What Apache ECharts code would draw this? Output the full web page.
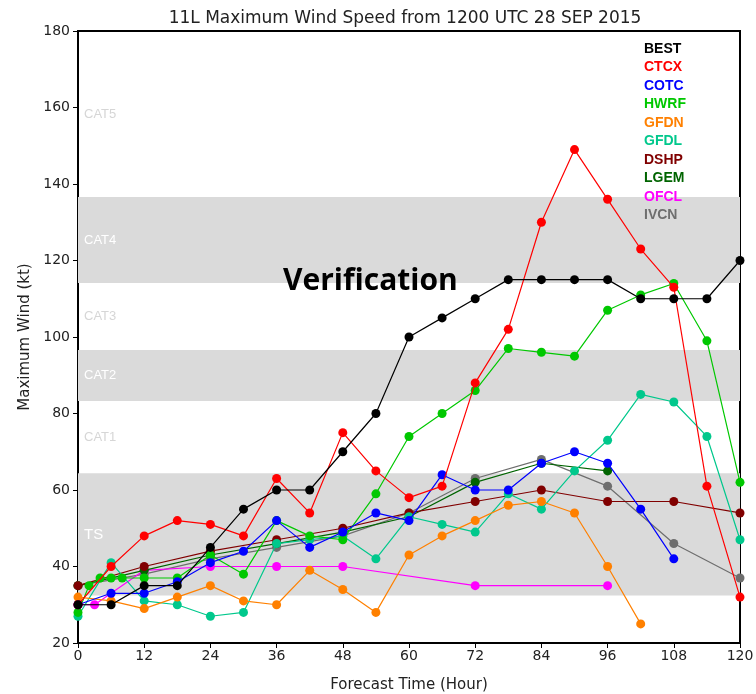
<!DOCTYPE html>
<html>
<head>
<meta charset="utf-8">
<title>11L Maximum Wind Speed</title>
<script src="https://cdn.jsdelivr.net/npm/echarts@6/dist/echarts.min.js"></script>
<style>
  html, body { margin: 0; padding: 0; background: #fff; }
  #chart { width: 756px; height: 694px; }
</style>
</head>
<body>
<div id="chart"></div>
<script>
// Forecast hours and intensities (kt) for each model
const modelNames = ['BEST', 'CTCX', 'COTC', 'HWRF', 'GFDN', 'GFDL', 'DSHP', 'LGEM', 'OFCL', 'IVCN'];
const modelColors = ['#000000', '#ff0000', '#0000ff', '#00c800', '#ff8000', '#00c88c', '#800000', '#006400', '#ff00ff', '#6e6e6e'];

const bestHours = [0, 6, 12, 18, 24, 30, 36, 42, 48, 54, 60, 66, 72, 78, 84, 90, 96, 102, 108, 114, 120];
const bestWind  = [30, 30, 35, 35, 45, 55, 60, 60, 70, 80, 100, 105, 110, 115, 115, 115, 115, 110, 110, 110, 120];

const ctcxHours = [0, 6, 12, 18, 24, 30, 36, 42, 48, 54, 60, 66, 72, 78, 84, 90, 96, 102, 108, 114, 120];
const ctcxWind  = [30, 40, 48, 52, 51, 48, 63, 54, 75, 65, 58, 61, 88, 102, 130, 149, 136, 123, 113, 61, 32];

const cotcHours = [0, 6, 12, 18, 24, 30, 36, 42, 48, 54, 60, 66, 72, 78, 84, 90, 96, 102, 108];
const cotcWind  = [30, 33, 33, 36, 41, 44, 52, 45, 49, 54, 52, 64, 60, 60, 67, 70, 67, 55, 42];

const hwrfHours = [0, 2, 4, 6, 8, 12, 18, 24, 30, 36, 42, 48, 54, 60, 66, 72, 78, 84, 90, 96, 102, 108, 114, 120];
const hwrfWind  = [28, 35, 37, 37, 37, 37, 37, 43, 38, 52, 48, 47, 59, 74, 80, 86, 97, 96, 95, 107, 111, 114, 99, 62];

const gfdnHours = [0, 6, 12, 18, 24, 30, 36, 42, 48, 54, 60, 66, 72, 78, 84, 90, 96, 102];
const gfdnWind  = [32, 31, 29, 32, 35, 31, 30, 39, 34, 28, 43, 48, 52, 56, 57, 54, 40, 25];

const gfdlHours = [0, 6, 12, 18, 24, 30, 36, 42, 48, 54, 60, 66, 72, 78, 84, 90, 96, 102, 108, 114, 120];
const gfdlWind  = [27, 41, 31, 30, 27, 28, 46, 47, 48, 42, 53, 51, 49, 59, 55, 65, 73, 85, 83, 74, 47];

const dshpHours = [0, 12, 24, 36, 48, 60, 72, 84, 96, 108, 120];
const dshpWind  = [35, 40, 44, 47, 50, 54, 57, 60, 57, 57, 54];

const lgemHours = [0, 12, 24, 36, 48, 60, 72, 84, 96];
const lgemWind  = [35, 39, 43, 46, 49, 53, 62, 67, 65];

const ofclHours = [0, 3, 12, 24, 36, 48, 72, 96];
const ofclWind  = [30, 30, 39, 40, 40, 40, 35, 35];

const ivcnHours = [0, 12, 24, 36, 48, 60, 72, 84, 96, 108, 120];
const ivcnWind  = [35, 38, 42, 45, 48, 54, 63, 68, 61, 46, 37];

// Saffir-Simpson category bands (kt)
const bandNames  = ['TS', 'CAT1', 'CAT2', 'CAT3', 'CAT4', 'CAT5'];
const bandLower  = [32.4, 64.4, 83.3, 96.6, 114.1, 136.6];
const bandUpper  = [64.4, 83.3, 96.6, 114.1, 136.6, 180];
const bandShaded = [true, false, true, false, true, false];

const xTicks = { min: 0, max: 120, interval: 12 };
const yTicks = { min: 20, max: 180, interval: 20 };

const modelData = [
  [bestHours, bestWind], [ctcxHours, ctcxWind], [cotcHours, cotcWind],
  [hwrfHours, hwrfWind], [gfdnHours, gfdnWind], [gfdlHours, gfdlWind],
  [dshpHours, dshpWind], [lgemHours, lgemWind], [ofclHours, ofclWind],
  [ivcnHours, ivcnWind]
];

const pairs = (hrs, vals) => hrs.map((h, i) => [h, vals[i]]);

const chart = echarts.init(document.getElementById('chart'), null, { renderer: 'canvas' });

const bandSeries = {
  type: 'line',
  name: 'bands',
  data: [],
  silent: true,
  z: 0,
  markArea: {
    silent: true,
    data: bandNames.map((n, i) => [
      {
        name: n,
        yAxis: bandLower[i],
        itemStyle: { color: bandShaded[i] ? '#dadada' : 'rgba(255,255,255,0)' },
        label: {
          show: true,
          position: 'insideLeft',
          distance: 6,
          color: bandShaded[i] ? '#ffffff' : '#d6d6d6',
          fontFamily: 'Liberation Sans',
          fontSize: n === 'TS' ? 15 : 13
        }
      },
      { yAxis: bandUpper[i] }
    ])
  }
};

// Draw BEST last so its markers sit on top
const drawOrder = [9, 8, 7, 6, 5, 4, 3, 2, 1, 0];
const modelSeries = drawOrder.map(k => ({
  type: 'line',
  name: modelNames[k],
  data: pairs(modelData[k][0], modelData[k][1]),
  symbol: 'circle',
  symbolSize: 9,
  showSymbol: true,
  z: 2 + (9 - k),
  lineStyle: { width: 1.2, color: modelColors[k] },
  itemStyle: { color: modelColors[k] },
  emphasis: { disabled: true },
  animation: false
}));

chart.setOption({
  animation: false,
  backgroundColor: '#ffffff',
  title: {
    text: '11L Maximum Wind Speed from 1200 UTC 28 SEP 2015',
    left: 400,
    textAlign: 'center',
    top: 5,
    textStyle: { fontFamily: 'DejaVu Sans', fontSize: 17, fontWeight: 'normal', color: '#222' }
  },
  legend: {
    orient: 'vertical',
    left: 634,
    top: 37,
    icon: 'none',
    itemWidth: 0,
    itemHeight: 8,
    itemGap: 4.5,
    selectedMode: false,
    data: modelNames.map((n, i) => ({
      name: n,
      textStyle: { color: modelColors[i], fontFamily: 'Liberation Sans', fontSize: 14, fontWeight: 'bold' }
    }))
  },
  grid: {
    left: 78, right: 16, top: 31, bottom: 51,
    outerBoundsMode: 'none',
    containLabel: false,
    show: true,
    borderColor: '#000',
    borderWidth: 2,
    backgroundColor: 'transparent'
  },
  xAxis: {
    type: 'value',
    min: xTicks.min, max: xTicks.max, interval: xTicks.interval,
    name: 'Forecast Time (Hour)',
    nameLocation: 'middle',
    nameGap: 35,
    nameTextStyle: { fontFamily: 'DejaVu Sans', fontSize: 15, color: '#222' },
    axisLine: { show: true, lineStyle: { color: '#000', width: 2 } },
    axisTick: { show: true, inside: false, length: 5, lineStyle: { color: '#000' } },
    axisLabel: { fontFamily: 'DejaVu Sans', fontSize: 14, color: '#222', margin: 6 },
    splitLine: { show: false }
  },
  yAxis: {
    type: 'value',
    min: yTicks.min, max: yTicks.max, interval: yTicks.interval,
    name: 'Maximum Wind (kt)',
    nameLocation: 'middle',
    nameGap: 36,
    nameRotate: 90,
    nameTextStyle: { fontFamily: 'DejaVu Sans', fontSize: 15, color: '#222' },
    axisLine: { show: true, lineStyle: { color: '#000', width: 2 } },
    axisTick: { show: true, inside: false, length: 5, lineStyle: { color: '#000' } },
    axisLabel: { fontFamily: 'DejaVu Sans', fontSize: 14, color: '#222', margin: 8 },
    splitLine: { show: false }
  },
  graphic: [{
    type: 'text',
    left: 283,
    top: 266,
    z: 100,
    style: {
      text: 'Verification',
      fontFamily: 'Open Sans',
      fontSize: 30,
      fontWeight: 'bold',
      fill: '#000'
    }
  }],
  series: [bandSeries].concat(modelSeries)
});
</script>
</body>
</html>
